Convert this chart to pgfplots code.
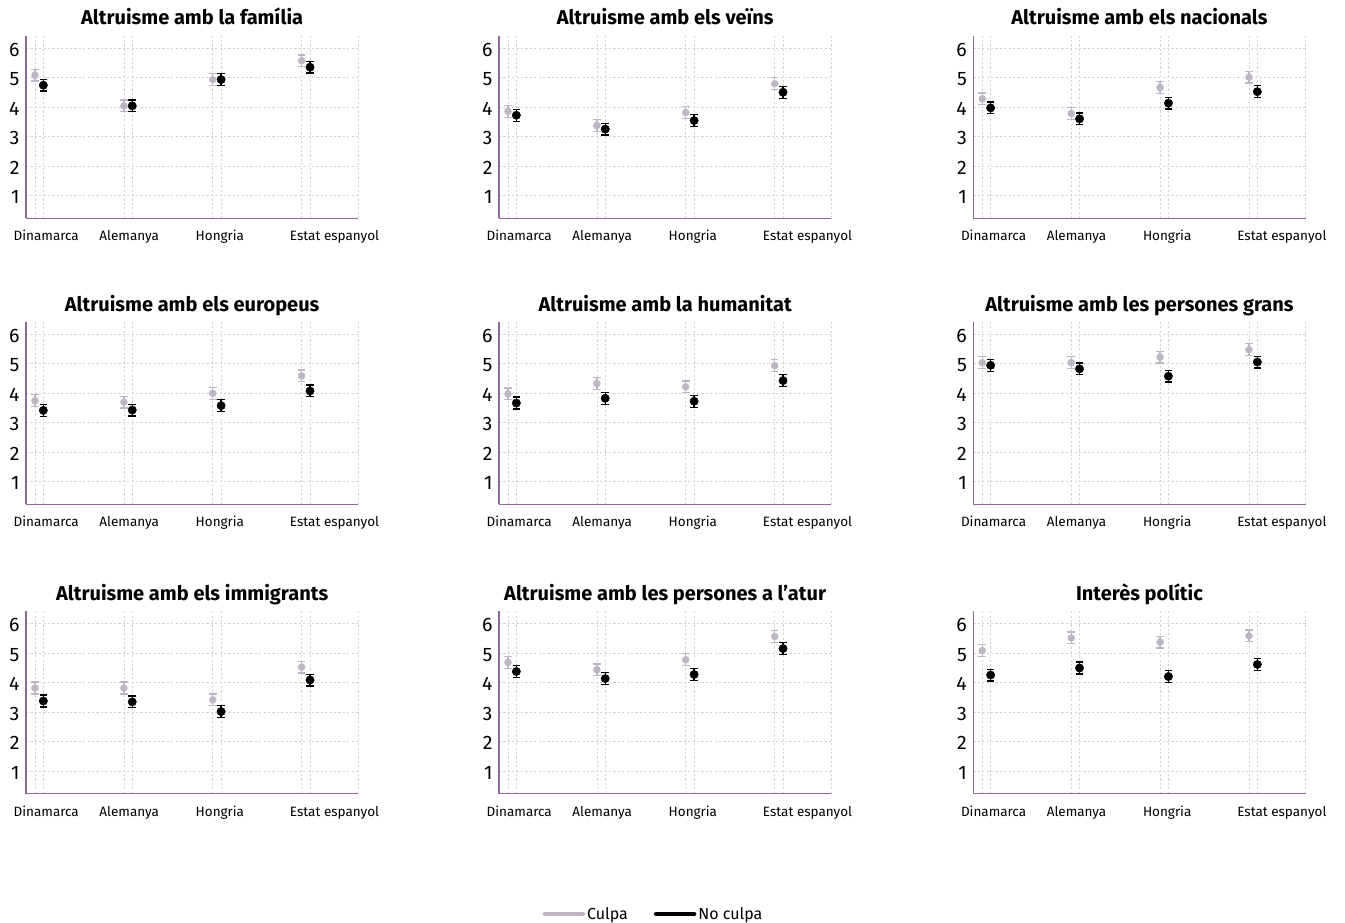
\documentclass[border=0pt]{standalone}
\usepackage{pgfplots}
\pgfplotsset{compat=1.18}
\usepackage{fontspec}
\setmainfont{Fira Sans}
\definecolor{culpa}{RGB}{190,182,197}
\definecolor{axpurple}{RGB}{140,108,150}
\definecolor{gridc}{RGB}{212,212,212}
\pgfplotsset{
  common/.style={
    scale only axis, width=332.3pt, height=182.3pt,
    anchor=south west,
    xmin=-0.101, xmax=3.637, ymin=0.233, ymax=6.42,
    axis x line*=bottom, axis y line*=left,
    axis line style={color=axpurple, line width=1.3pt},
    xtick={0,0.094,1,1.094,2,2.094,3,3.094,3.637},
    xticklabels={},
    extra x ticks={0.127,1.06,2.08,3.37},
    extra x tick labels={Dinamarca,Alemanya,Hongria,Estat espanyol},
    extra x tick style={grid=none},
    ytick={1,2,3,4,5,6},
    major tick length=0pt,
    xmajorgrids, ymajorgrids,
    grid style={gridc, line width=0.7pt, dash pattern=on 2.2pt off 2.2pt},
    /pgf/number format/assume math mode=true,
    yticklabel style={font=\fontsize{19.5}{20}\selectfont, anchor=east, xshift=-3pt, yshift=-1.5pt},
    xticklabel style={font=\fontsize{13.5}{14}\selectfont, anchor=base, yshift=-22.4pt},
    title style={font=\bfseries\fontsize{20}{21}\selectfont, anchor=base, at={(0.5,1)}, yshift=5pt},
    clip=false,
  },
  culpastyle/.style={only marks, mark=*, mark size=3.5pt, color=culpa, forget plot,
    error bars/.cd, y dir=both, y explicit,
    error bar style={line width=1.3pt, color=culpa},
    error mark options={rotate=90, mark size=3.8pt, line width=1.3pt, color=culpa}},
  noculpastyle/.style={only marks, mark=*, mark size=4.2pt, color=black, forget plot,
    error bars/.cd, y dir=both, y explicit,
    error bar style={line width=1.3pt, color=black},
    error mark options={rotate=90, mark size=3.8pt, line width=1.3pt, color=black}},
}
\newcommand{\panel}[5]{%
\begin{axis}[common, at={(#1pt,#2pt)}, title={#3}]
\addplot[culpastyle] coordinates {#4};
\addplot[noculpastyle] coordinates {#5};
\end{axis}}
\begin{document}
\begin{tikzpicture}
\useasboundingbox[fill=white] (0,0) rectangle (1345pt,-923pt);
% Row 1
\panel{26}{-218.3}{Altruisme amb la família}
{(0,5.09) +- (0,0.2) (1,4.05) +- (0,0.2) (2,4.94) +- (0,0.2) (3,5.58) +- (0,0.2)}
{(0.094,4.75) +- (0,0.2) (1.094,4.05) +- (0,0.2) (2.094,4.94) +- (0,0.2) (3.094,5.36) +- (0,0.2)}
\panel{499}{-218.3}{Altruisme amb els veïns}
{(0,3.86) +- (0,0.2) (1,3.38) +- (0,0.2) (2,3.82) +- (0,0.2) (3,4.80) +- (0,0.2)}
{(0.094,3.73) +- (0,0.2) (1.094,3.26) +- (0,0.2) (2.094,3.55) +- (0,0.2) (3.094,4.51) +- (0,0.2)}
\panel{973.3}{-218.3}{Altruisme amb els nacionals}
{(0,4.29) +- (0,0.2) (1,3.79) +- (0,0.2) (2,4.67) +- (0,0.2) (3,5.02) +- (0,0.2)}
{(0.094,3.98) +- (0,0.2) (1.094,3.61) +- (0,0.2) (2.094,4.14) +- (0,0.2) (3.094,4.53) +- (0,0.2)}
% Row 2
\panel{26}{-504.3}{Altruisme amb els europeus}
{(0,3.75) +- (0,0.2) (1,3.70) +- (0,0.2) (2,4.00) +- (0,0.2) (3,4.59) +- (0,0.2)}
{(0.094,3.42) +- (0,0.2) (1.094,3.43) +- (0,0.2) (2.094,3.58) +- (0,0.2) (3.094,4.08) +- (0,0.2)}
\panel{499}{-504.3}{Altruisme amb la humanitat}
{(0,3.98) +- (0,0.2) (1,4.33) +- (0,0.2) (2,4.22) +- (0,0.2) (3,4.94) +- (0,0.2)}
{(0.094,3.67) +- (0,0.2) (1.094,3.83) +- (0,0.2) (2.094,3.73) +- (0,0.2) (3.094,4.43) +- (0,0.2)}
\panel{973.3}{-504.3}{Altruisme amb les persones grans}
{(0,5.04) +- (0,0.2) (1,5.04) +- (0,0.2) (2,5.23) +- (0,0.2) (3,5.48) +- (0,0.2)}
{(0.094,4.95) +- (0,0.2) (1.094,4.83) +- (0,0.2) (2.094,4.58) +- (0,0.2) (3.094,5.06) +- (0,0.2)}
% Row 3
\panel{26}{-793.7}{Altruisme amb els immigrants}
{(0,3.82) +- (0,0.2) (1,3.82) +- (0,0.2) (2,3.42) +- (0,0.2) (3,4.53) +- (0,0.2)}
{(0.094,3.38) +- (0,0.2) (1.094,3.35) +- (0,0.2) (2.094,3.02) +- (0,0.2) (3.094,4.09) +- (0,0.2)}
\begin{axis}[common, at={(499pt,-793.7pt)}, title={Altruisme amb les persones a l'atur},
  legend style={at={(0.465,-0.659)}, anchor=center, draw=none, fill=none,
    legend columns=2, font=\fontsize{16}{17}\selectfont,
    /tikz/every even column/.append style={column sep=24pt}},
  legend image code/.code={\draw[#1, line width=4.5pt, line cap=round] (0pt,0pt) -- (38pt,0pt);}]
\addlegendimage{culpa}
\addlegendentry{Culpa}
\addlegendimage{black}
\addlegendentry{No culpa}
\addplot[culpastyle] coordinates {(0,4.69) +- (0,0.2) (1,4.44) +- (0,0.2) (2,4.78) +- (0,0.2) (3,5.57) +- (0,0.2)};
\addplot[noculpastyle] coordinates {(0.094,4.38) +- (0,0.2) (1.094,4.14) +- (0,0.2) (2.094,4.28) +- (0,0.2) (3.094,5.16) +- (0,0.2)};
\end{axis}
\panel{973.3}{-793.7}{Interès polític}
{(0,5.09) +- (0,0.2) (1,5.52) +- (0,0.2) (2,5.38) +- (0,0.2) (3,5.59) +- (0,0.2)}
{(0.094,4.26) +- (0,0.2) (1.094,4.50) +- (0,0.2) (2.094,4.21) +- (0,0.2) (3.094,4.62) +- (0,0.2)}
\end{tikzpicture}
\end{document}
